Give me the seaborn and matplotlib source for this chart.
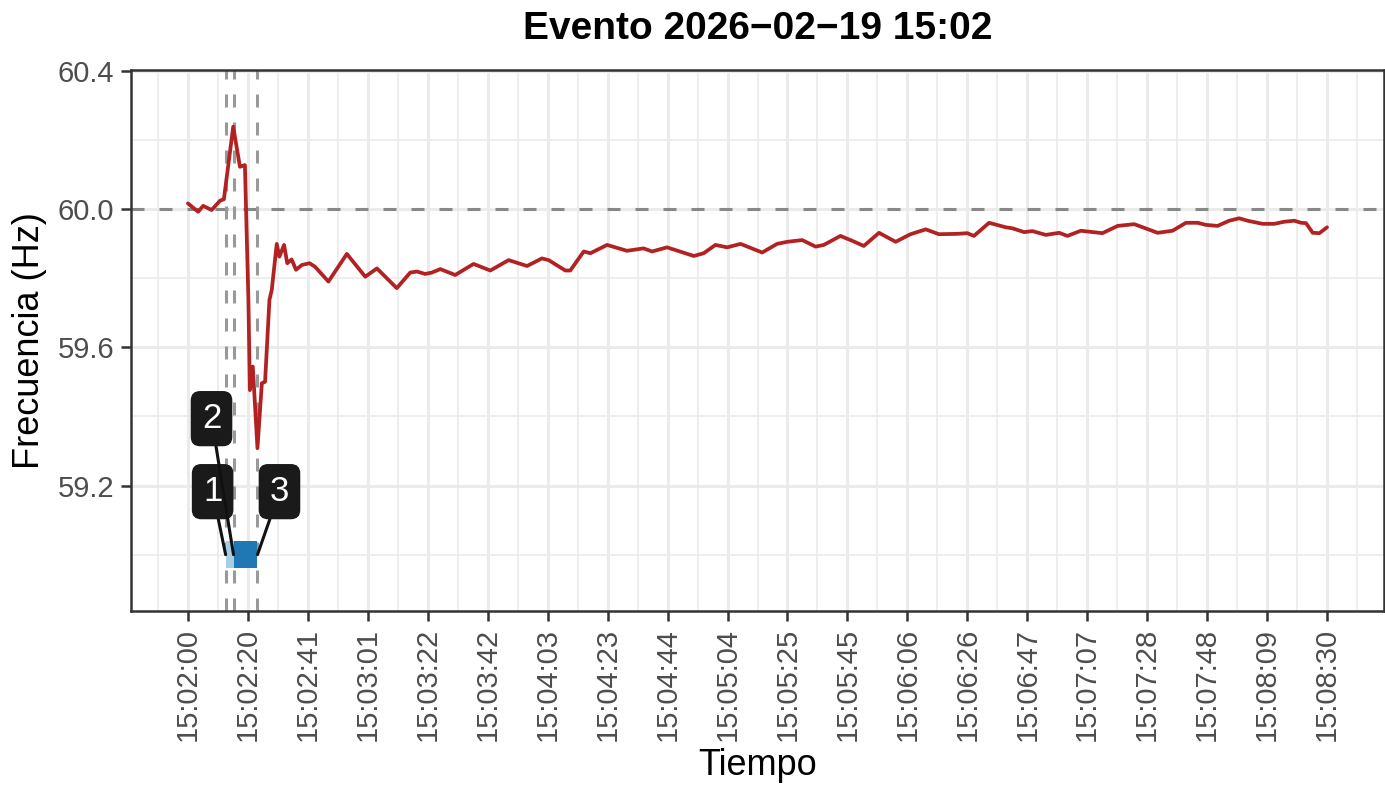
import numpy as np
import pandas as pd
import matplotlib
matplotlib.use("Agg")
import matplotlib.pyplot as plt
import seaborn as sns
from matplotlib.patches import Rectangle
from matplotlib.ticker import FixedLocator

# seconds after 15:02:00 and frequency (Hz)
seconds = [0, 3.5, 5.2, 8.1, 11.0, 12.3, 15.5, 17.8, 19.5, 20.7, 21.2, 22.2, 23.8,
           25.3, 26.4, 27.9, 28.7, 30.4, 31.3, 32.9, 34.0, 35.5, 37.0, 39.0, 41.6,
           43.5, 48.1, 54.4, 60.7, 64.7, 71.5, 76.1, 78.4, 81.2, 83.5, 86.4, 91.5,
           97.8, 103.5, 109.8, 116.1, 121.2, 123.5, 129.2, 130.9, 135.5, 137.8,
           143.5, 150.3, 156.0, 158.9, 164.0, 173.2, 176.6, 180.6, 184.6, 189.2,
           196.6, 201.7, 205.2, 210.3, 214.9, 217.7, 223.4, 227.4, 231.4, 236.6,
           242.3, 247.4, 252.6, 257.1, 263.4, 266.8, 269.1, 274.3, 280.0, 282.3,
           286.3, 289.1, 293.7, 298.3, 301.1, 305.7, 313.1, 318.3, 324.0, 332.0,
           337.1, 341.7, 345.7, 348.5, 352.5, 356.5, 359.9, 362.8, 367.9, 371.9,
           375.3, 378.8, 381.1, 382.8, 385.1, 387.4, 390.0]
freq = [60.016, 59.992, 60.009, 59.997, 60.024, 60.028, 60.238, 60.122, 60.127, 59.737,
        59.476, 59.544, 59.308, 59.496, 59.500, 59.737, 59.766, 59.899, 59.862, 59.896,
        59.843, 59.854, 59.824, 59.838, 59.843, 59.833, 59.790, 59.870, 59.804, 59.828,
        59.771, 59.816, 59.819, 59.812, 59.816, 59.826, 59.809, 59.841, 59.822, 59.852,
        59.835, 59.857, 59.852, 59.822, 59.822, 59.877, 59.872, 59.896, 59.879, 59.886,
        59.877, 59.889, 59.864, 59.872, 59.896, 59.889, 59.899, 59.874, 59.899, 59.905,
        59.910, 59.891, 59.896, 59.922, 59.908, 59.893, 59.931, 59.905, 59.927, 59.941,
        59.927, 59.928, 59.930, 59.922, 59.960, 59.947, 59.944, 59.933, 59.936, 59.925,
        59.931, 59.922, 59.937, 59.930, 59.951, 59.956, 59.931, 59.937, 59.960, 59.960,
        59.954, 59.951, 59.966, 59.973, 59.966, 59.957, 59.957, 59.963, 59.966, 59.960,
        59.959, 59.931, 59.930, 59.947]

event_ids = ["1", "2", "3"]
event_seconds = [12.9, 15.6, 23.8]
event_level = 59.0
nominal = 60.0

x_tick_labels = ["15:02:00", "15:02:20", "15:02:41", "15:03:01", "15:03:22", "15:03:42",
                 "15:04:03", "15:04:23", "15:04:44", "15:05:04", "15:05:25", "15:05:45",
                 "15:06:06", "15:06:26", "15:06:47", "15:07:07", "15:07:28", "15:07:48",
                 "15:08:09", "15:08:30"]
y_ticks = [59.2, 59.6, 60.0, 60.4]

df = pd.DataFrame({"t": seconds, "f": freq})

sns.set_theme(style="white")
plt.rcParams["font.family"] = ["Liberation Sans", "DejaVu Sans"]

fig = plt.figure(figsize=(13.85, 7.89), dpi=100)
ax = fig.add_axes([131 / 1385, 1 - 611 / 789, 1253 / 1385, 541 / 789])

xmax = seconds[-1]
xt = np.linspace(0, xmax, len(x_tick_labels))
step = xt[1] - xt[0]
ax.set_xlim(-0.05 * xmax, 1.05 * xmax)
ax.set_ylim(58.837, 60.402)

# grid (theme_bw look)
ax.xaxis.set_major_locator(FixedLocator(xt))
ax.xaxis.set_minor_locator(FixedLocator(np.arange(-step / 2, xmax + step, step)))
ax.yaxis.set_major_locator(FixedLocator(y_ticks))
ax.yaxis.set_minor_locator(FixedLocator([59.0, 59.4, 59.8, 60.2]))
ax.grid(which="major", color="#EBEBEB", lw=2.2)
ax.grid(which="minor", color="#EBEBEB", lw=1.2)
ax.set_axisbelow(True)

dlw = 2.2
dash = (0, (13 * 0.72 / dlw, 15 * 0.72 / dlw))
ax.axhline(nominal, color="#888888", lw=dlw, linestyle=dash, zorder=2)
for t in event_seconds:
    ax.axvline(t, color="#999999", lw=dlw, linestyle=dash, zorder=2)

sns.lineplot(data=df, x="t", y="f", color="#B22222", linewidth=2.7, ax=ax, zorder=3)

# event spans
h = 0.04
ax.add_patch(Rectangle((event_seconds[0], event_level - h), event_seconds[1] - event_seconds[0],
                       2 * h, color="#A6CEE3", lw=0, zorder=4))
ax.add_patch(Rectangle((event_seconds[1], event_level - h), event_seconds[2] - event_seconds[1],
                       2 * h, color="#1F78B4", lw=0, zorder=5))

offsets = [(-13, 63), (-22, 136), (22, 63)]
for lab, t, off in zip(event_ids, event_seconds, offsets):
    ax.annotate(lab, xy=(t, event_level), xytext=off, textcoords="offset pixels",
                ha="center", va="center", color="white", fontsize=25, zorder=6,
                bbox=dict(boxstyle="round,pad=0.3,rounding_size=0.25", fc="#1A1A1A", ec="#1A1A1A"),
                arrowprops=dict(arrowstyle="-", color="#111111", lw=2.2, shrinkA=0, shrinkB=0))

ax.set_xticklabels(x_tick_labels, rotation=90)
ax.tick_params(axis="both", which="major", length=7, width=1.8, color="#333333",
               labelsize=21, labelcolor="#4D4D4D", pad=5, bottom=True, left=True)
ax.tick_params(which="minor", length=0)
for s in ax.spines.values():
    s.set_color("#333333")
    s.set_linewidth(1.8)

ax.set_xlabel("Tiempo", fontsize=26, color="black", labelpad=5)
ax.set_ylabel("Frecuencia (Hz)", fontsize=26, color="black", labelpad=8)
ax.set_title("Evento 2026\u221202\u221219 15:02", fontsize=28, fontweight="bold",
             color="black", pad=22)

fig.savefig("out.png", dpi=100)
